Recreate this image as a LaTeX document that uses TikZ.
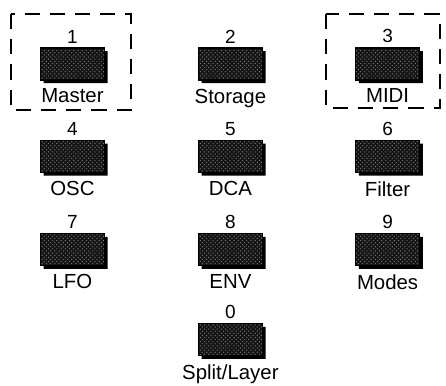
\documentclass[tikz,border=0pt]{standalone}
\usepackage{fontspec}
\setmainfont{Liberation Sans}
\usetikzlibrary{shapes.misc, shadows, patterns, positioning, calc}

\begin{document}
\begin{tikzpicture}[
    key/.style={chamfered rectangle, chamfered rectangle corners=north east,
        chamfered rectangle xsep=4pt, chamfered rectangle ysep=4pt,
        minimum width=1.6cm, minimum height=0.8cm, inner sep=0pt,
        drop shadow={shadow xshift=0.08cm, shadow yshift=-0.08cm, opacity=1, fill=black},
        preaction={fill=black!92}, pattern=crosshatch dots, pattern color=black!55,
        draw=black, line width=0.8pt},
    num/.style={above=0.1cm of #1, inner sep=0pt, font=\fontsize{13.5}{15}\selectfont},
    lbl/.style={below=0.2cm of #1, inner sep=0pt, font=\fontsize{14.5}{16}\selectfont},
    dashbox/.style={dash pattern=on 0.38cm off 0.25cm, line width=1.4pt}
]
    \useasboundingbox (0,0) rectangle (11.15,9.65);

    % Row 1
    \node[key] (k1) at (1.81,8.05) {};
    \node[num=k1] (n1) {1};
    \node[lbl=k1] (l1) {Master};

    \node[key] (k2) at (5.76,8.05) {};
    \node[num=k2] (n2) {2};
    \node[lbl=k2] (l2) {Storage};

    \node[key] (k3) at (9.69,8.05) {};
    \node[num=k3] (n3) {3};
    \node[lbl=k3] (l3) {MIDI};

    % Row 2
    \node[key] (k4) at (1.81,5.74) {};
    \node[num=k4] (n4) {4};
    \node[lbl=k4] (l4) {OSC};

    \node[key] (k5) at (5.76,5.74) {};
    \node[num=k5] (n5) {5};
    \node[lbl=k5] (l5) {DCA};

    \node[key] (k6) at (9.69,5.74) {};
    \node[num=k6] (n6) {6};
    \node[lbl=k6] (l6) {Filter};

    % Row 3
    \node[key] (k7) at (1.81,3.41) {};
    \node[num=k7] (n7) {7};
    \node[lbl=k7] (l7) {LFO};

    \node[key] (k8) at (5.76,3.41) {};
    \node[num=k8] (n8) {8};
    \node[lbl=k8] (l8) {ENV};

    \node[key] (k9) at (9.69,3.41) {};
    \node[num=k9] (n9) {9};
    \node[lbl=k9] (l9) {Modes};

    % Row 4
    \node[key] (k0) at (5.76,1.16) {};
    \node[num=k0] (n0) {0};
    \node[lbl=k0] (l0) {Split/Layer};

    % Dashed frames
    \draw[dashbox] ($(k1.center)+(-1.535,1.25)$) rectangle ($(k1.center)+(1.465,-1.15)$);
    \draw[dashbox] ($(k3.center)+(-1.54,1.25)$) rectangle ($(k3.center)+(1.31,-1.1)$);
\end{tikzpicture}
\end{document}
